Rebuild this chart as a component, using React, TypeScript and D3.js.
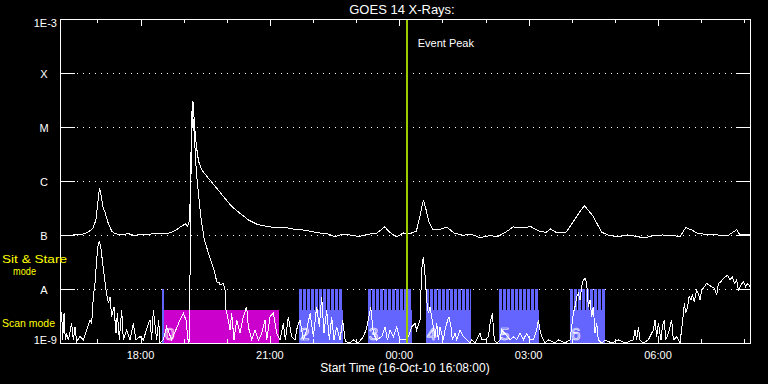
import React from 'react';
import * as d3 from 'd3';

// ---------- data ----------
const START = Date.UTC(2010, 9, 16, 16, 8, 0); // 16-Oct-10 16:08:00
const SPAN_MINUTES = 960;

const levelLabels = ['A', 'B', 'C', 'M', 'X'];
const levelValues = [1e-8, 1e-7, 1e-6, 1e-5, 1e-4];
const bottomLabel = '1E-9';
const topLabel = '1E-3';
const title = 'GOES 14 X-Rays:';
const xTitle = 'Start Time (16-Oct-10 16:08:00)';
const eventLabel = 'Event Peak';
const eventPeakMinute = 482.4;

// GOES long channel (1-8 A): [minutes after start, W/m^2]
const longChannel: [number, number][] = [
  [0, 1.0e-7], [12, 0.98e-7], [24, 1.02e-7], [34, 1.05e-7], [40, 1.15e-7], [46, 1.35e-7],
  [50, 1.9e-7], [53, 4.5e-7], [55, 7.4e-7], [57.5, 5.2e-7], [59.4, 3.4e-7], [63, 2.55e-7],
  [67, 1.67e-7], [72, 1.17e-7], [76.5, 1.06e-7], [85.7, 1.0e-7], [95, 1.06e-7], [104, 0.97e-7],
  [113, 1.04e-7], [122, 1.0e-7], [132, 1.09e-7], [141, 1.06e-7], [150, 1.06e-7], [158, 1.17e-7],
  [162, 1.25e-7], [170, 1.49e-7], [174.5, 1.6e-7], [177.5, 1.45e-7], [180, 1.79e-7], [182, 9.2e-7],
  [183.6, 8.9e-6], [185, 2.98e-5], [187.3, 1.03e-5], [189.8, 4.38e-6], [192.8, 2.31e-6], [197, 1.62e-6],
  [205, 1.19e-6], [214, 8.55e-7], [226.5, 5.35e-7], [238.8, 3.4e-7], [251, 2.48e-7], [263, 1.87e-7],
  [275.5, 1.55e-7], [287.7, 1.45e-7], [300, 1.35e-7], [312, 1.39e-7], [324.5, 1.29e-7], [336.7, 1.25e-7],
  [349, 1.17e-7], [361, 1.09e-7], [373.4, 1.04e-7], [382.6, 0.92e-7], [392, 1.03e-7], [404, 1.0e-7],
  [416, 0.94e-7], [428.5, 1.03e-7], [440.8, 1.09e-7], [451.8, 1.41e-7], [459, 1.12e-7], [468, 0.92e-7],
  [477.5, 1.09e-7], [486.7, 1.06e-7], [495.8, 1.17e-7], [500.8, 2.21e-7], [505.6, 4.5e-7], [509.3, 2.94e-7],
  [513, 1.79e-7], [519, 1.25e-7], [529.5, 1.29e-7], [538.7, 1.39e-7], [548, 1.09e-7], [560, 0.99e-7],
  [572, 1.03e-7], [584.6, 0.89e-7], [597, 0.97e-7], [609, 0.94e-7], [618, 1.09e-7], [630.6, 1.41e-7],
  [642.8, 1.35e-7], [655, 1.43e-7], [667, 1.17e-7], [676.5, 1.12e-7], [682.6, 1.29e-7], [691.8, 1.09e-7],
  [704, 1.12e-7], [713, 1.67e-7], [722, 2.55e-7], [729.7, 3.49e-7], [734.6, 2.9e-7], [742, 2.21e-7],
  [748, 1.55e-7], [754, 1.12e-7], [765, 0.97e-7], [777.5, 0.94e-7], [789.7, 1.0e-7], [802, 0.94e-7],
  [814, 0.88e-7], [826.5, 0.99e-7], [838.7, 1.0e-7], [854, 0.97e-7], [863, 0.94e-7], [870.5, 1.37e-7],
  [878.5, 1.25e-7], [887.7, 1.06e-7], [900, 1.03e-7], [915, 1.0e-7], [930.5, 1.0e-7], [941.5, 1.25e-7],
  [946, 1.0e-7], [960, 1.03e-7],
];

// GOES short channel (0.5-4 A): [minutes after start, W/m^2]
const shortChannel: [number, number][] = [
  [0, 2.0e-9], [2.3, 3.8e-9], [3.7, 1.14e-9], [5.6, 3.54e-9], [7.4, 1.14e-9], [9.3, 1.51e-9],
  [11.6, 1.14e-9], [16.2, 2.31e-9], [18.6, 1.14e-9], [20.9, 2.0e-9], [23.2, 1.06e-9], [27.8, 1.31e-9],
  [32.5, 1.14e-9], [37.1, 1.74e-9], [41.7, 2.67e-9], [44.1, 2.31e-9], [46.4, 7.21e-9], [48.7, 1.27e-8],
  [51.0, 3.44e-8], [53.3, 7.0e-8], [54.7, 7.5e-8], [56.6, 6.08e-8], [58.9, 3.44e-8], [61.7, 1.69e-8],
  [64.0, 9.58e-9], [67.3, 5.43e-9], [69.6, 7.21e-9], [71.9, 3.07e-9], [75.1, 4.71e-9], [77.9, 1.51e-9],
  [79.8, 3.54e-9], [82.6, 1.14e-9], [85.8, 4.08e-9], [88.1, 1.14e-9], [92.8, 1.74e-9], [97.4, 1.14e-9],
  [102.0, 2.31e-9], [105.7, 1.14e-9], [111.3, 1.31e-9], [116.0, 1.14e-9], [121.5, 2.0e-9], [125.2, 2.67e-9],
  [127.5, 1.14e-9], [129.9, 4.08e-9], [134.5, 1.14e-9], [137.3, 2.67e-9], [139.1, 1.0e-9], [143.8, 1.14e-9],
  [148.4, 2.0e-9], [155.4, 1.14e-9], [167.0, 2.67e-9], [171.6, 3.54e-9], [175.3, 2.67e-9], [178.6, 1.0e-9],
  [180.4, 1.14e-9], [181.5, 5e-7], [182.5, 6e-6], [183.8, 2.2e-5], [186.7, 7.7e-6], [189.8, 1.41e-6],
  [195.9, 2.18e-7], [200.8, 8.07e-8], [215.6, 1.95e-8], [218.0, 1.36e-8], [221.6, 1.3e-8], [222.6, 1.18e-8],
  [227.2, 1.28e-8], [229.6, 9.6e-9], [231.0, 4.08e-9], [234.2, 2.67e-9], [236.5, 1.74e-9], [238.9, 3.54e-9],
  [242.1, 1.14e-9], [245.8, 2.67e-9], [250.5, 1.51e-9], [255.1, 3.07e-9], [259.7, 4.71e-9], [262.0, 2.0e-9],
  [266.7, 1.14e-9], [271.3, 1.74e-9], [276.0, 1.14e-9], [280.6, 1.51e-9], [285.2, 2.67e-9], [287.6, 1.14e-9],
  [292.2, 3.07e-9], [296.8, 3.54e-9], [301.5, 1.51e-9], [306.1, 1.14e-9], [310.7, 2.31e-9], [313.5, 1.14e-9],
  [317.7, 3.07e-9], [322.3, 1.31e-9], [327.0, 1.14e-9], [330.2, 2.0e-9], [333.9, 2.67e-9], [338.6, 1.14e-9],
  [343.2, 1.74e-9], [347.9, 3.54e-9], [352.5, 1.31e-9], [357.1, 4.71e-9], [360.8, 2.0e-9], [364.1, 7.21e-9],
  [367.3, 1.51e-9], [371.0, 4.08e-9], [374.8, 1.14e-9], [378.0, 3.07e-9], [381.2, 1.14e-9], [385.0, 2.0e-9],
  [389.6, 1.14e-9], [393.3, 2.67e-9], [397.0, 1.06e-9], [403.5, 1.0e-9], [408.1, 1.14e-9], [415.1, 1.0e-9],
  [422.1, 1.31e-9], [425.8, 1.74e-9], [429.0, 2.67e-9], [432.3, 4.71e-9], [436.0, 1.51e-9], [440.6, 1.14e-9],
  [447.6, 1.31e-9], [452.2, 2.0e-9], [455.5, 1.14e-9], [459.2, 1.74e-9], [463.8, 1.31e-9], [468.4, 2.0e-9],
  [473.1, 1.14e-9], [480.0, 1.14e-9], [484.6, 1.31e-9], [489.3, 2.0e-9], [493.9, 2.31e-9], [496.2, 1.74e-9],
  [498.6, 2.15e-9], [500.9, 2.67e-9], [502.3, 9.58e-9], [504.1, 3.44e-8], [505.5, 3.7e-8], [506.9, 2.59e-8],
  [508.8, 1.27e-8], [510.1, 6.25e-9], [512.5, 3.54e-9], [514.8, 4.71e-9], [517.1, 3.07e-9], [519.4, 2.0e-9],
  [521.7, 1.31e-9], [524.1, 2.31e-9], [526.4, 1.14e-9], [528.7, 2.0e-9], [531.0, 1.51e-9], [533.3, 1.14e-9],
  [535.7, 1.74e-9], [539.4, 2.67e-9], [541.2, 3.07e-9], [544.0, 2.0e-9], [545.9, 1.14e-9], [549.6, 1.51e-9],
  [551.9, 1.14e-9], [556.5, 1.74e-9], [561.2, 1.31e-9], [565.8, 1.14e-9], [570.4, 1.0e-9], [572.8, 1.14e-9],
  [577.4, 1.0e-9], [584.4, 1.51e-9], [586.7, 1.14e-9], [591.3, 1.14e-9], [596.0, 1.31e-9], [598.3, 2.31e-9],
  [601.5, 3.54e-9], [604.3, 1.14e-9], [607.5, 1.0e-9], [612.2, 1.14e-9], [614.5, 1.74e-9], [619.1, 1.51e-9],
  [626.1, 1.14e-9], [630.7, 1.31e-9], [635.4, 1.14e-9], [640.0, 1.51e-9], [644.6, 1.14e-9], [649.3, 1.51e-9],
  [653.9, 1.14e-9], [658.6, 1.14e-9], [663.2, 1.74e-9], [665.5, 2.67e-9], [667.8, 1.74e-9], [670.2, 1.31e-9],
  [674.8, 1.0e-9], [679.4, 1.14e-9], [688.7, 1.0e-9], [693.3, 1.14e-9], [702.6, 1.0e-9], [709.6, 1.14e-9],
  [711.9, 2.0e-9], [714.2, 3.54e-9], [716.5, 4.71e-9], [718.9, 7.21e-9], [721.2, 8.31e-9], [723.5, 6.25e-9],
  [725.8, 1.1e-8], [728.1, 1.47e-8], [730.5, 1.57e-8], [732.8, 1.27e-8], [735.1, 4.71e-9], [737.4, 6.25e-9],
  [739.7, 3.07e-9], [742.0, 4.71e-9], [744.4, 1.51e-9], [746.7, 2.31e-9], [749.0, 1.14e-9], [753.6, 1.0e-9],
  [758.3, 1.14e-9], [767.6, 1.0e-9], [776.8, 1.14e-9], [786.1, 1.0e-9], [797.7, 1.14e-9], [800.0, 1.74e-9],
  [802.3, 1.14e-9], [804.7, 2.0e-9], [807.0, 1.14e-9], [811.6, 1.0e-9], [818.6, 1.14e-9], [825.5, 1.74e-9],
  [827.9, 2.67e-9], [830.2, 1.31e-9], [832.5, 2.31e-9], [836.2, 1.14e-9], [838.0, 2.0e-9], [840.8, 2.67e-9],
  [842.7, 1.14e-9], [846.4, 1.51e-9], [851.0, 2.67e-9], [853.4, 1.14e-9], [858.0, 1.31e-9], [862.6, 1.0e-9],
  [865.9, 2.31e-9], [868.7, 5.43e-9], [870.5, 3.54e-9], [873.3, 4.71e-9], [875.2, 7.21e-9], [877.9, 6.25e-9],
  [879.8, 7.74e-9], [882.6, 5.82e-9], [885.8, 9.58e-9], [888.1, 8.31e-9], [890.5, 6.25e-9], [892.8, 9.58e-9],
  [896.5, 1.1e-8], [899.7, 1.27e-8], [903.0, 1.18e-8], [906.7, 1.1e-8], [910.4, 1.03e-8], [913.7, 7.74e-9],
  [916.0, 1.27e-8], [919.7, 1.37e-8], [922.9, 1.57e-8], [926.2, 1.69e-8], [928.9, 1.81e-8], [932.2, 1.47e-8],
  [935.5, 1.69e-8], [938.2, 1.27e-8], [941.5, 1.47e-8], [943.8, 9.58e-9], [947.5, 1.18e-8], [950.8, 1.37e-8],
  [954.0, 1.1e-8], [956.8, 1.27e-8], [960.0, 1.1e-8],
];

// observing mode timeline: minutes after start
const modeStart = [141.5, 144.7, 332.5, 428.1, 508.8, 610.8, 709.6];
const modeEnd = [144.7, 304.3, 393.3, 489.7, 571.8, 666.4, 758.3];
const modeKind = ['stare', 'scan', 'stare', 'stare', 'stare', 'stare', 'stare'];
const modeLabel = ['', '0', '2', '3', '4', '5', '6'];

// ---------- style ----------
const W = 768;
const H = 384;
const LEFT = 60;
const RIGHT = 750;
const TOP = 19;
const BOTTOM = 343;
const FONT = '"Liberation Sans", Arial, sans-serif';
const BLUE = '#6464ff';
const MAGENTA = '#cc00cc';
const GREEN = '#9ccc00';
const YELLOW = '#ffff00';
const STARE_TOP = 1e-8;
const SCAN_TOP = 4.1e-9;

export default function App() {
  const t = (m: number) => new Date(START + m * 60000);
  const x = d3.scaleUtc().domain([t(0), t(SPAN_MINUTES)]).range([LEFT, RIGHT]);
  const y = d3.scaleLog().domain([1e-9, 1e-3]).range([BOTTOM, TOP]).clamp(true);
  const line = d3
    .line<[number, number]>()
    .x((d) => x(t(d[0])))
    .y((d) => y(d[1]));

  const hourTicks = x.ticks(d3.utcHour.every(1) as any);
  const fmt = d3.utcFormat('%H:%M');
  const majorTicks = hourTicks.filter((d) => d.getUTCHours() % 3 === 0);

  const yStare = y(STARE_TOP);
  const yScan = y(SCAN_TOP);
  const ex = x(t(eventPeakMinute));

  return (
    <svg
      width={W}
      height={H}
      style={{ position: 'absolute', left: 0, top: 0, background: '#000', display: 'block' }}
      fontFamily={FONT}
    >
      <rect x={0} y={0} width={W} height={H} fill="#000" />
      <defs>
        {modeStart.map((s, i) => (
          <pattern
            key={i}
            id={`stripes${i}`}
            patternUnits="userSpaceOnUse"
            x={Math.round(x(t(s)))}
            y={0}
            width={4}
            height={H}
          >
            <rect x={0} y={0} width={3} height={H} fill={BLUE} />
          </pattern>
        ))}
      </defs>

      {/* grid */}
      {levelValues.map((v, i) => (
        <line
          key={`g${i}`}
          x1={LEFT + 17}
          x2={RIGHT - 15}
          y1={Math.round(y(v)) + 0.5}
          y2={Math.round(y(v)) + 0.5}
          stroke="#fff"
          strokeWidth={1}
          strokeDasharray="1,5"
          shapeRendering="crispEdges"
        />
      ))}

      {/* mode bars */}
      {modeStart.map((s, i) => {
        const x0 = Math.round(x(t(s)));
        const x1 = Math.round(x(t(modeEnd[i])));
        if (modeKind[i] === 'scan') {
          return (
            <rect key={`m${i}`} x={x0} y={yScan} width={x1 - x0} height={BOTTOM - yScan} fill={MAGENTA} shapeRendering="crispEdges" />
          );
        }
        return (
          <g key={`m${i}`} shapeRendering="crispEdges">
            <rect x={x0} y={yStare} width={Math.max(2, x1 - x0)} height={yScan - yStare} fill={`url(#stripes${i})`} />
            <rect x={x0} y={yScan} width={Math.max(2, x1 - x0)} height={BOTTOM - yScan} fill={BLUE} />
          </g>
        );
      })}
      {modeStart.map((s, i) =>
        modeLabel[i] ? (
          <text
            key={`ml${i}`}
            x={x(t(s)) + 1}
            y={340}
            fontSize={17}
            fill="none"
            stroke="#fff"
            strokeWidth={0.7}
          >
            {modeLabel[i]}
          </text>
        ) : null
      )}

      {/* curves */}
      <path d={line(shortChannel) || ''} fill="none" stroke="#fff" strokeWidth={1} shapeRendering="crispEdges" />
      <path d={line(longChannel) || ''} fill="none" stroke="#fff" strokeWidth={1} shapeRendering="crispEdges" />

      {/* event peak */}
      <line x1={ex} x2={ex} y1={TOP} y2={BOTTOM} stroke={GREEN} strokeWidth={2} shapeRendering="crispEdges" />
      <text x={ex + 11} y={47} fill="#fff" fontSize={11}>
        {eventLabel}
      </text>

      {/* frame */}
      <rect x={LEFT + 0.5} y={TOP + 0.5} width={RIGHT - LEFT} height={BOTTOM - TOP} fill="none" stroke="#fff" strokeWidth={1} shapeRendering="crispEdges" />

      {/* y ticks and labels */}
      {levelValues.map((v, i) => {
        const yy = Math.round(y(v)) + 0.5;
        return (
          <g key={`yt${i}`}>
            <line x1={LEFT} x2={LEFT + 15} y1={yy} y2={yy} stroke="#fff" shapeRendering="crispEdges" />
            <line x1={RIGHT - 14} x2={RIGHT} y1={yy} y2={yy} stroke="#fff" shapeRendering="crispEdges" />
            <text x={44} y={yy + 4} fill="#fff" fontSize={11} textAnchor="middle">
              {levelLabels[i]}
            </text>
          </g>
        );
      })}
      <text x={57} y={27} fill="#fff" fontSize={11} textAnchor="end">
        {topLabel}
      </text>
      <text x={57} y={344} fill="#fff" fontSize={11} textAnchor="end">
        {bottomLabel}
      </text>

      {/* x ticks */}
      {hourTicks.map((d, i) => {
        const xx = Math.round(x(d)) + 0.5;
        const len = d.getUTCHours() % 3 === 0 ? 7 : 4;
        return (
          <g key={`xt${i}`}>
            <line x1={xx} x2={xx} y1={TOP} y2={TOP + len} stroke="#fff" shapeRendering="crispEdges" />
            <line x1={xx} x2={xx} y1={BOTTOM} y2={BOTTOM - len} stroke="#fff" shapeRendering="crispEdges" />
          </g>
        );
      })}
      {majorTicks.map((d, i) => (
        <text key={`xl${i}`} x={x(d)} y={359} fill="#fff" fontSize={11} textAnchor="middle">
          {fmt(d)}
        </text>
      ))}

      {/* titles */}
      <text x={402} y={14} fill="#fff" fontSize={13} textAnchor="middle">
        {title}
      </text>
      <text x={405} y={372} fill="#fff" fontSize={12} textAnchor="middle">
        {xTitle}
      </text>

      {/* mode legend */}
      <text x={2} y={263} fill={YELLOW} fontSize={11} textLength={65} lengthAdjust="spacingAndGlyphs">
        Sit &amp; Stare
      </text>
      <text x={13} y={275} fill={YELLOW} fontSize={11} textLength={23} lengthAdjust="spacingAndGlyphs">
        mode
      </text>
      <text x={2} y={327} fill={YELLOW} fontSize={11} textLength={53} lengthAdjust="spacingAndGlyphs">
        Scan mode
      </text>
    </svg>
  );
}
